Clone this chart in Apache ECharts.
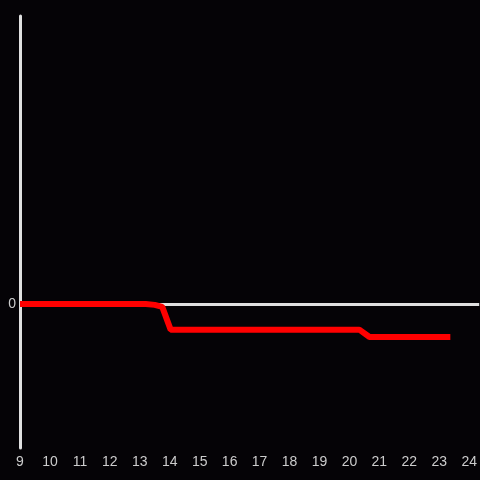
<!DOCTYPE html>
<html><head><meta charset="utf-8">
<script src="https://cdn.jsdelivr.net/npm/echarts@6/dist/echarts.min.js"></script>
<style>html,body{margin:0;padding:0;background:#050306;}#c{width:480px;height:480px;}</style>
</head><body><div id="c"></div>
<script>
var xValues = [9, 13.2, 13.5, 13.75, 14.03, 20.33, 20.67, 23.37];
var yValues = [0, 0, -0.006, -0.02, -0.178, -0.178, -0.229, -0.229];
var xTicks = [9,10,11,12,13,14,15,16,17,18,19,20,21,22,23,24];

var chart = echarts.init(document.getElementById('c'), null, {renderer:'canvas'});
var data = xValues.map(function(x,i){return [x, yValues[i]];});
chart.setOption({
  backgroundColor: '#050306',
  animation: false,
  grid: {left: 20, right: 0, top: 16, bottom: 32},
  xAxis: {
    type: 'value', min: 9, max: 24.3333, interval: 1,
    axisLine: {show: false}, axisTick: {show: false}, splitLine: {show: false},
    axisLabel: {color: '#cccccc', fontSize: 14, fontFamily: 'Liberation Sans', margin: 7,
      showMaxLabel: false,
      formatter: function(v){ return xTicks.indexOf(v) >= 0 ? String(v) : ''; }}
  },
  yAxis: {
    type: 'value', min: -1, max: 2, interval: 1,
    axisLine: {show: true, lineStyle: {color: '#e0e0e0', width: 3}},
    axisTick: {show: false}, splitLine: {show: false},
    axisLabel: {color: '#cccccc', fontSize: 14, fontFamily: 'Liberation Sans', margin: 4,
      formatter: function(v){ return v === 0 ? '0' : ''; }}
  },
  series: [{
    type: 'line', data: data, showSymbol: false, symbol: 'none',
    lineStyle: {color: '#ff0000', width: 6},
    markLine: {silent: true, symbol: 'none', label: {show: false},
      lineStyle: {color: '#e0e0e0', width: 3, type: 'solid'},
      data: [{yAxis: 0}], z: 1},
    z: 3
  }]
});
</script></body></html>
